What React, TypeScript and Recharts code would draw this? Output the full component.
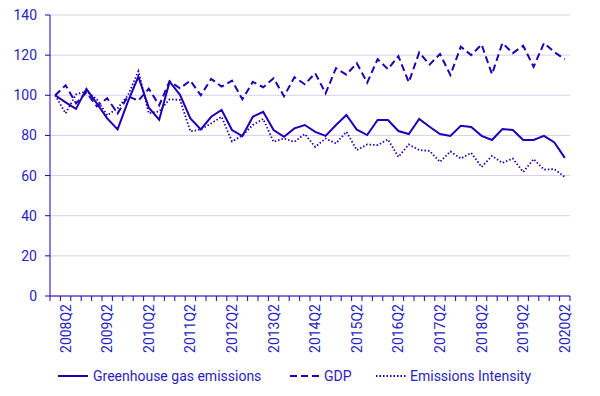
import { LineChart, Line, XAxis, YAxis, CartesianGrid, Legend } from "recharts";

const quarters = [
  "2008Q1", "2008Q2", "2008Q3", "2008Q4", "2009Q1", "2009Q2", "2009Q3", "2009Q4",
  "2010Q1", "2010Q2", "2010Q3", "2010Q4", "2011Q1", "2011Q2", "2011Q3", "2011Q4",
  "2012Q1", "2012Q2", "2012Q3", "2012Q4", "2013Q1", "2013Q2", "2013Q3", "2013Q4",
  "2014Q1", "2014Q2", "2014Q3", "2014Q4", "2015Q1", "2015Q2", "2015Q3", "2015Q4",
  "2016Q1", "2016Q2", "2016Q3", "2016Q4", "2017Q1", "2017Q2", "2017Q3", "2017Q4",
  "2018Q1", "2018Q2", "2018Q3", "2018Q4", "2019Q1", "2019Q2", "2019Q3", "2019Q4",
  "2020Q1", "2020Q2",
];

const ghg = [
  100, 96.5, 93.2, 103.2, 96, 88.5, 83, 97, 109.3, 93.8,
  87.8, 106.8, 100.2, 88.5, 83, 89.3, 92.7, 82.7, 79.7, 89.3,
  91.8, 82.7, 79.3, 83.5, 85.2, 81.8, 79.8, 85.2, 90.2, 82.9,
  80.2, 87.7, 87.7, 82.2, 80.7, 88.2, 84.3, 80.7, 79.7, 84.8,
  84.2, 79.8, 77.7, 83.2, 82.7, 77.7, 77.7, 79.8, 76.5, 68.8,
];

const gdp = [
  100, 105, 96, 101.5, 94.5, 98.5, 91, 99.5, 97.3, 103.3,
  95, 107, 103.5, 107.3, 100, 108.2, 104.3, 107.3, 98, 106.7,
  104, 108.5, 99.5, 109, 105.5, 111, 101, 113.5, 110.3, 116,
  106.3, 118, 113, 119.5, 106.5, 121.3, 115.3, 120.6, 110.1, 124.2,
  120, 125.3, 110.5, 126, 121, 124.7, 114.2, 126, 121.5, 118,
];

const intensity = [
  100, 91, 100.5, 102, 98, 90, 93.5, 100, 112, 91,
  92, 98, 97.7, 82, 83, 86, 89.3, 77, 80, 85.2,
  88.2, 76.8, 78.5, 76.8, 80.7, 74.3, 78.5, 76, 81.8, 72.7,
  75.5, 75.2, 78, 69.3, 75.5, 72.7, 72.3, 66.8, 72, 68.5,
  71.3, 64.3, 69.8, 66.3, 68.5, 61.8, 68.2, 63, 63.2, 59.3,
];

const yTicks = [0, 20, 40, 60, 80, 100, 120, 140];

const data = quarters.map((q, i) => ({
  quarter: q,
  ghg: ghg[i],
  gdp: gdp[i],
  intensity: intensity[i],
}));

const BLUE = "#1f00b9";
const TEXT = "#2b1ec0";
const FONT = "Roboto, sans-serif";
const HALF = 5.2;

// tick marks sit on the category boundaries, labels on every 4th quarter
function QuarterTick(props: any) {
  const { x, y, payload, index } = props;
  const last = index === quarters.length - 1;
  return (
    <g>
      <line x1={x - HALF} y1={y} x2={x - HALF} y2={y + 5} stroke={BLUE} />
      {last && <line x1={x + HALF} y1={y} x2={x + HALF} y2={y + 5} stroke={BLUE} />}
      {index % 4 === 1 && (
        <text
          transform={`translate(${x + 5},${y + 8}) rotate(-90)`}
          textAnchor="end"
          fill={TEXT}
          fontSize={14}
          fontFamily={FONT}
        >
          {payload.value}
        </text>
      )}
    </g>
  );
}

function LegendBox() {
  return (
    <svg width={600} height={30} style={{ display: "block" }}>
      <g fontFamily={FONT} fontSize={14} fill={TEXT}>
        <line x1={58} y1={10} x2={88} y2={10} stroke={BLUE} strokeWidth={2} />
        <text x={93} y={15}>Greenhouse gas emissions</text>
        <line x1={290} y1={10} x2={322} y2={10} stroke={BLUE} strokeWidth={2} strokeDasharray="7 4" />
        <text x={324} y={15}>GDP</text>
        <line x1={376} y1={10} x2={406} y2={10} stroke={BLUE} strokeWidth={1.8} strokeDasharray="1.5 2" />
        <text x={410} y={15}>Emissions Intensity</text>
      </g>
    </svg>
  );
}

export default function App() {
  return (
    <div style={{ position: "absolute", left: 0, top: 0 }}>
      <LineChart width={600} height={396} data={data} margin={{ top: 15, right: 30, left: 0, bottom: 0 }}>
        <CartesianGrid vertical={false} stroke="#d4d0ee" />
        <XAxis
          dataKey="quarter"
          interval={0}
          padding={{ left: HALF, right: HALF }}
          axisLine={{ stroke: BLUE }}
          tickLine={false}
          tickSize={0}
          tickMargin={0}
          height={70}
          tick={<QuarterTick />}
        />
        <YAxis
          domain={[0, 140]}
          ticks={yTicks}
          width={50}
          axisLine={{ stroke: BLUE }}
          tickLine={{ stroke: BLUE }}
          tickSize={5}
          tickMargin={8}
          tick={{ fill: TEXT, fontSize: 14, fontFamily: FONT }}
        />
        <Legend verticalAlign="bottom" height={30} content={() => <LegendBox />} />
        <Line dataKey="ghg" stroke={BLUE} strokeWidth={2} dot={false} isAnimationActive={false} />
        <Line dataKey="gdp" stroke={BLUE} strokeWidth={2} strokeDasharray="7 4" dot={false} isAnimationActive={false} />
        <Line dataKey="intensity" stroke={BLUE} strokeWidth={1.8} strokeDasharray="1.5 2" dot={false} isAnimationActive={false} />
      </LineChart>
    </div>
  );
}
